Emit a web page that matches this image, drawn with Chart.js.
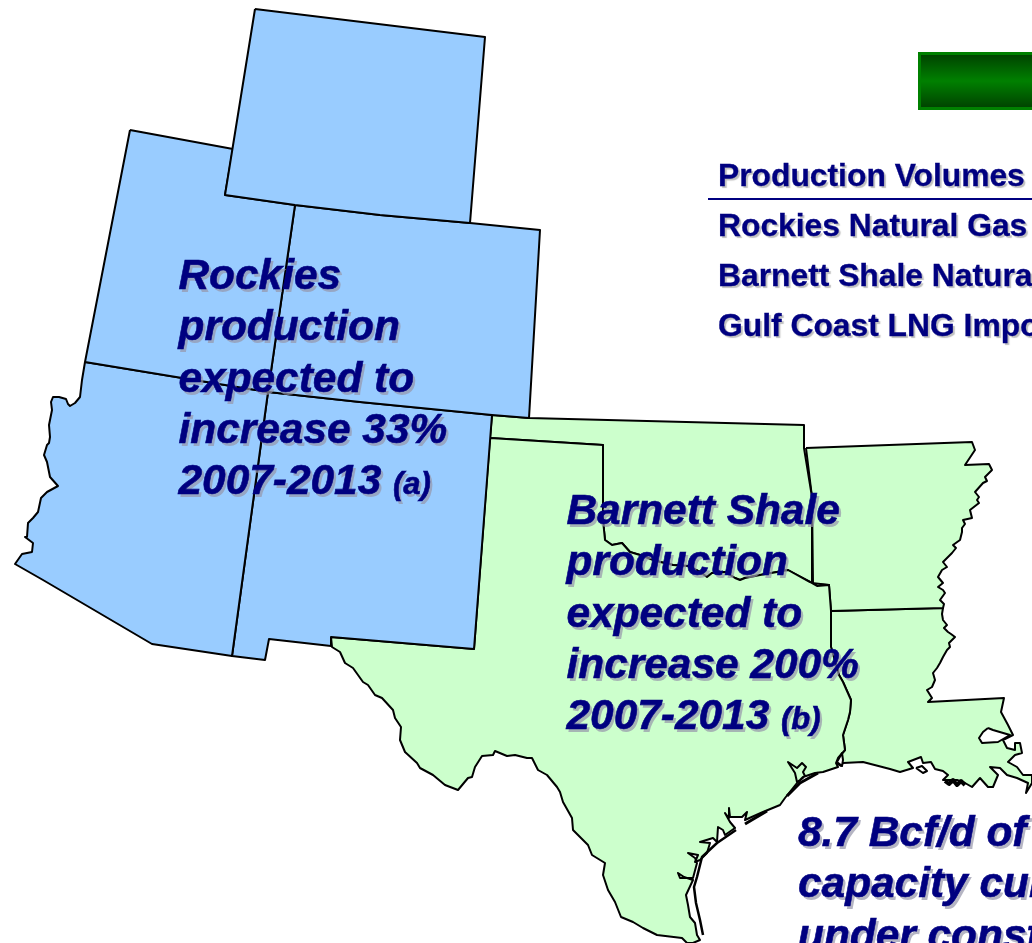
<!DOCTYPE html>
<html><head><meta charset="utf-8">
<script src="https://cdn.jsdelivr.net/npm/chart.js@4"></script>
<style>
html,body{margin:0;padding:0;background:#fff;width:1032px;height:943px;overflow:hidden}
#wrap{position:relative;width:1032px;height:943px;overflow:hidden}
canvas{position:absolute;left:0;top:0}
#badge{position:absolute;left:918px;top:52px;width:120px;height:58px;box-sizing:border-box;border:3px solid #008000;background:linear-gradient(#004400,#008000 50%,#004400)}
.t{position:absolute;white-space:nowrap;color:#000080;font-family:"Liberation Sans",Arial,sans-serif;font-weight:bold}
.big{font-size:42.4px;font-style:italic;line-height:51.4px;-webkit-text-stroke:.6px #000080;text-shadow:2.5px 2.5px .5px rgba(150,150,170,.7)}
.big small{font-size:31px}
.row{font-size:31.8px;line-height:36px;-webkit-text-stroke:.3px #000080;text-shadow:2px 2px 1px rgba(170,170,170,.75)}
</style></head><body>
<div id="wrap"><canvas id="c" width="1032" height="943"></canvas><div id="badge"></div><div id="txt"></div></div>
<script>
const rockiesNote=["Rockies","production","expected to","increase 33%","2007-2013 <small>(a)</small>"];
const barnettNote=["Barnett Shale","production","expected to","increase 200%","2007-2013 <small>(b)</small>"];
const lngNote=["8.7 Bcf/d of","capacity cur","under const"];
const tableRows=["Production Volumes","Rockies Natural Gas","Barnett Shale Natura","Gulf Coast LNG Impo"];

const wyoming=[[255,9],[485,37],[470,223],[380,215],[295,205],[225,195],[255,9]];
const utah=[[130,130],[233,149],[225,195],[295,205],[268,392],[170,376],[85,362],[130,130]];
const colorado=[[295,205],[380,215],[470,223],[540,230],[529,418],[492,415],[360,402],[268,392],[295,205]];
const arizona=[[85,362],[82,380],[80,397],[75,403],[70,406],[68,404],[66,399],[59,397],[53,397],[51,402],[52,410],[49,425],[50,437],[49,443],[47,445],[44,455],[47,462],[50,477],[58,486],[47,492],[41,498],[38,512],[33,518],[28,523],[27,537],[25,537],[33,543],[32,552],[22,554],[15,564],[43,580],[152,644],[232,656],[268,392],[170,376],[85,362]];
const newMexico=[[268,392],[360,402],[492,415],[474,649],[331,637],[331,646],[269,639],[265,660],[232,656],[268,392]];
const redRiver=[[605,540],[612,545],[622,543],[630,552],[640,555],[656,561],[673,565],[688,566],[700,572],[707,577],[712,573],[725,572],[735,578],[740,580],[745,578],[760,575],[777,572],[788,570],[797,575],[810,582],[817,586],[829,585]];
const sabineRiver=[[831,611],[831,647],[839,675],[843,682],[851,700],[850,712],[848,720],[843,735],[845,750],[838,758],[836,763]];
const texas=[[331,637],[474,649],[490,438],[603,445],[603,520],...redRiver,...sabineRiver,[838,767],[823,772],[815,773],[803,777],[800,780],[797,782],[795,773],[788,762],[797,768],[802,763],[806,767],[803,772],[805,776],[797,783],[785,798],[780,805],[763,812],[745,820],[747,812],[742,817],[730,817],[729,808],[729,818],[725,813],[730,822],[735,828],[725,835],[723,830],[718,827],[717,842],[713,838],[700,842],[710,843],[707,853],[700,860],[695,862],[698,855],[688,853],[695,858],[697,863],[693,878],[680,878],[678,873],[684,877],[693,880],[686,895],[688,905],[690,917],[695,923],[697,935],[700,940],[693,943],[687,943],[682,938],[657,935],[643,928],[633,922],[621,917],[615,902],[608,890],[603,875],[605,863],[592,855],[588,845],[573,830],[572,818],[563,802],[560,792],[557,787],[547,775],[538,770],[532,758],[527,758],[515,755],[507,756],[495,751],[493,755],[482,756],[475,767],[472,777],[468,778],[458,790],[445,785],[433,775],[420,768],[417,763],[405,752],[400,740],[401,727],[395,718],[393,710],[382,698],[375,695],[368,685],[363,682],[353,668],[345,663],[340,652],[332,647],[331,637]];
const oklahoma=[[492,415],[529,418],[804,425],[804,448],[812,497],[812,583],[829,585],...redRiver.slice().reverse(),[603,520],[603,445],[490,438],[492,415]];
const mississippiUpper=[[975,450],[965,465],[989,464],[992,470],[985,477],[987,481],[983,483],[975,492],[979,497],[977,500],[979,503],[970,510],[972,518],[963,520],[965,524],[962,528],[962,532],[960,540],[953,545],[956,548],[952,553],[949,556],[943,562],[947,567],[942,570],[938,577],[943,583],[938,587],[943,590],[945,593],[940,600],[944,604],[943,608]];
const arkansas=[[806,448],[972,442],...mississippiUpper,[831,611],[829,585],[813,584],[812,497],[806,448]];
const louisiana=[[831,611],[943,608],[942,614],[943,620],[947,625],[944,628],[948,632],[951,634],[955,637],[949,643],[950,647],[947,650],[943,657],[940,663],[937,668],[933,673],[935,680],[932,687],[927,690],[932,698],[928,702],[1004,698],[1001,712],[1008,725],[1013,735],[1003,740],[1007,748],[1015,750],[1015,743],[1020,743],[1022,753],[1015,755],[1008,762],[1017,767],[1023,775],[1032,775],[1032,783],[1026,793],[1028,783],[1017,778],[1007,775],[1000,768],[990,767],[998,775],[993,787],[988,787],[980,778],[972,787],[965,783],[957,780],[943,780],[948,775],[943,771],[935,769],[931,762],[923,763],[921,757],[908,762],[913,768],[900,772],[890,769],[863,762],[843,763],[841,766],[836,763],...sabineRiver.slice().reverse()];
const pontchartrain=[[988,728],[993,730],[1010,735],[998,742],[982,743],[979,738],[983,732],[988,728]];
const vermilion=[[916,768],[922,766],[927,771],[923,773],[916,768]];
const sabineLake=[[837,762],[842,753],[843,760],[842,766],[837,762]];
const marsh=[[945,781],[949,784],[953,780],[957,785],[961,781],[965,785]];
const islandA=[[818,773],[800,783],[787,796]];
const islandB=[[767,811],[745,824]];
const islandC=[[736,830],[717,843],[702,857],[697,877],[694,887],[696,903],[700,920],[703,935]];
const headerRule=[[708,199],[1032,199]];

const pts=a=>a.map(p=>({x:p[0],y:p[1]}));
const area=(d,c)=>({data:pts(d),showLine:true,fill:'shape',backgroundColor:c,borderColor:'#000',borderWidth:2,pointRadius:0,tension:0,borderJoinStyle:'round'});
const line=(d,c,w)=>({data:pts(d),showLine:true,fill:false,borderColor:c,borderWidth:w,pointRadius:0,tension:0,borderJoinStyle:'round'});
const BLUE='#99CCFF',GREEN='#CCFFCC';
new Chart(document.getElementById('c'),{type:'scatter',data:{datasets:[
  line(headerRule,'#000080',2),
  line(marsh,'#000',4),
  line(islandA,'#000',3),line(islandB,'#000',3),line(islandC,'#000',2.5),
  area(pontchartrain,'#fff'),area(vermilion,'#fff'),area(sabineLake,'#fff'),
  area(wyoming,BLUE),area(utah,BLUE),area(colorado,BLUE),area(arizona,BLUE),area(newMexico,BLUE),
  area(texas,GREEN),area(oklahoma,GREEN),area(arkansas,GREEN),area(louisiana,GREEN)
]},options:{responsive:false,animation:false,events:[],layout:{padding:0},
  plugins:{legend:{display:false},tooltip:{enabled:false},title:{display:false}},
  scales:{x:{type:'linear',min:0,max:1032,display:false},y:{type:'linear',min:0,max:943,reverse:true,display:false}}}});

const holder=document.getElementById('txt');
function put(lines,cls,left,top,step){lines.forEach((s,i)=>{const d=document.createElement('div');d.className='t '+cls;d.style.left=left+'px';d.style.top=(top+i*step)+'px';d.innerHTML=s;holder.appendChild(d);});}
put(rockiesNote,'big',178.5,249,51.3);
put(barnettNote,'big',566.5,484,51.3);
put(lngNote,'big',798,806,51.4);
put(tableRows,'row',718,157,50);
</script></body></html>
